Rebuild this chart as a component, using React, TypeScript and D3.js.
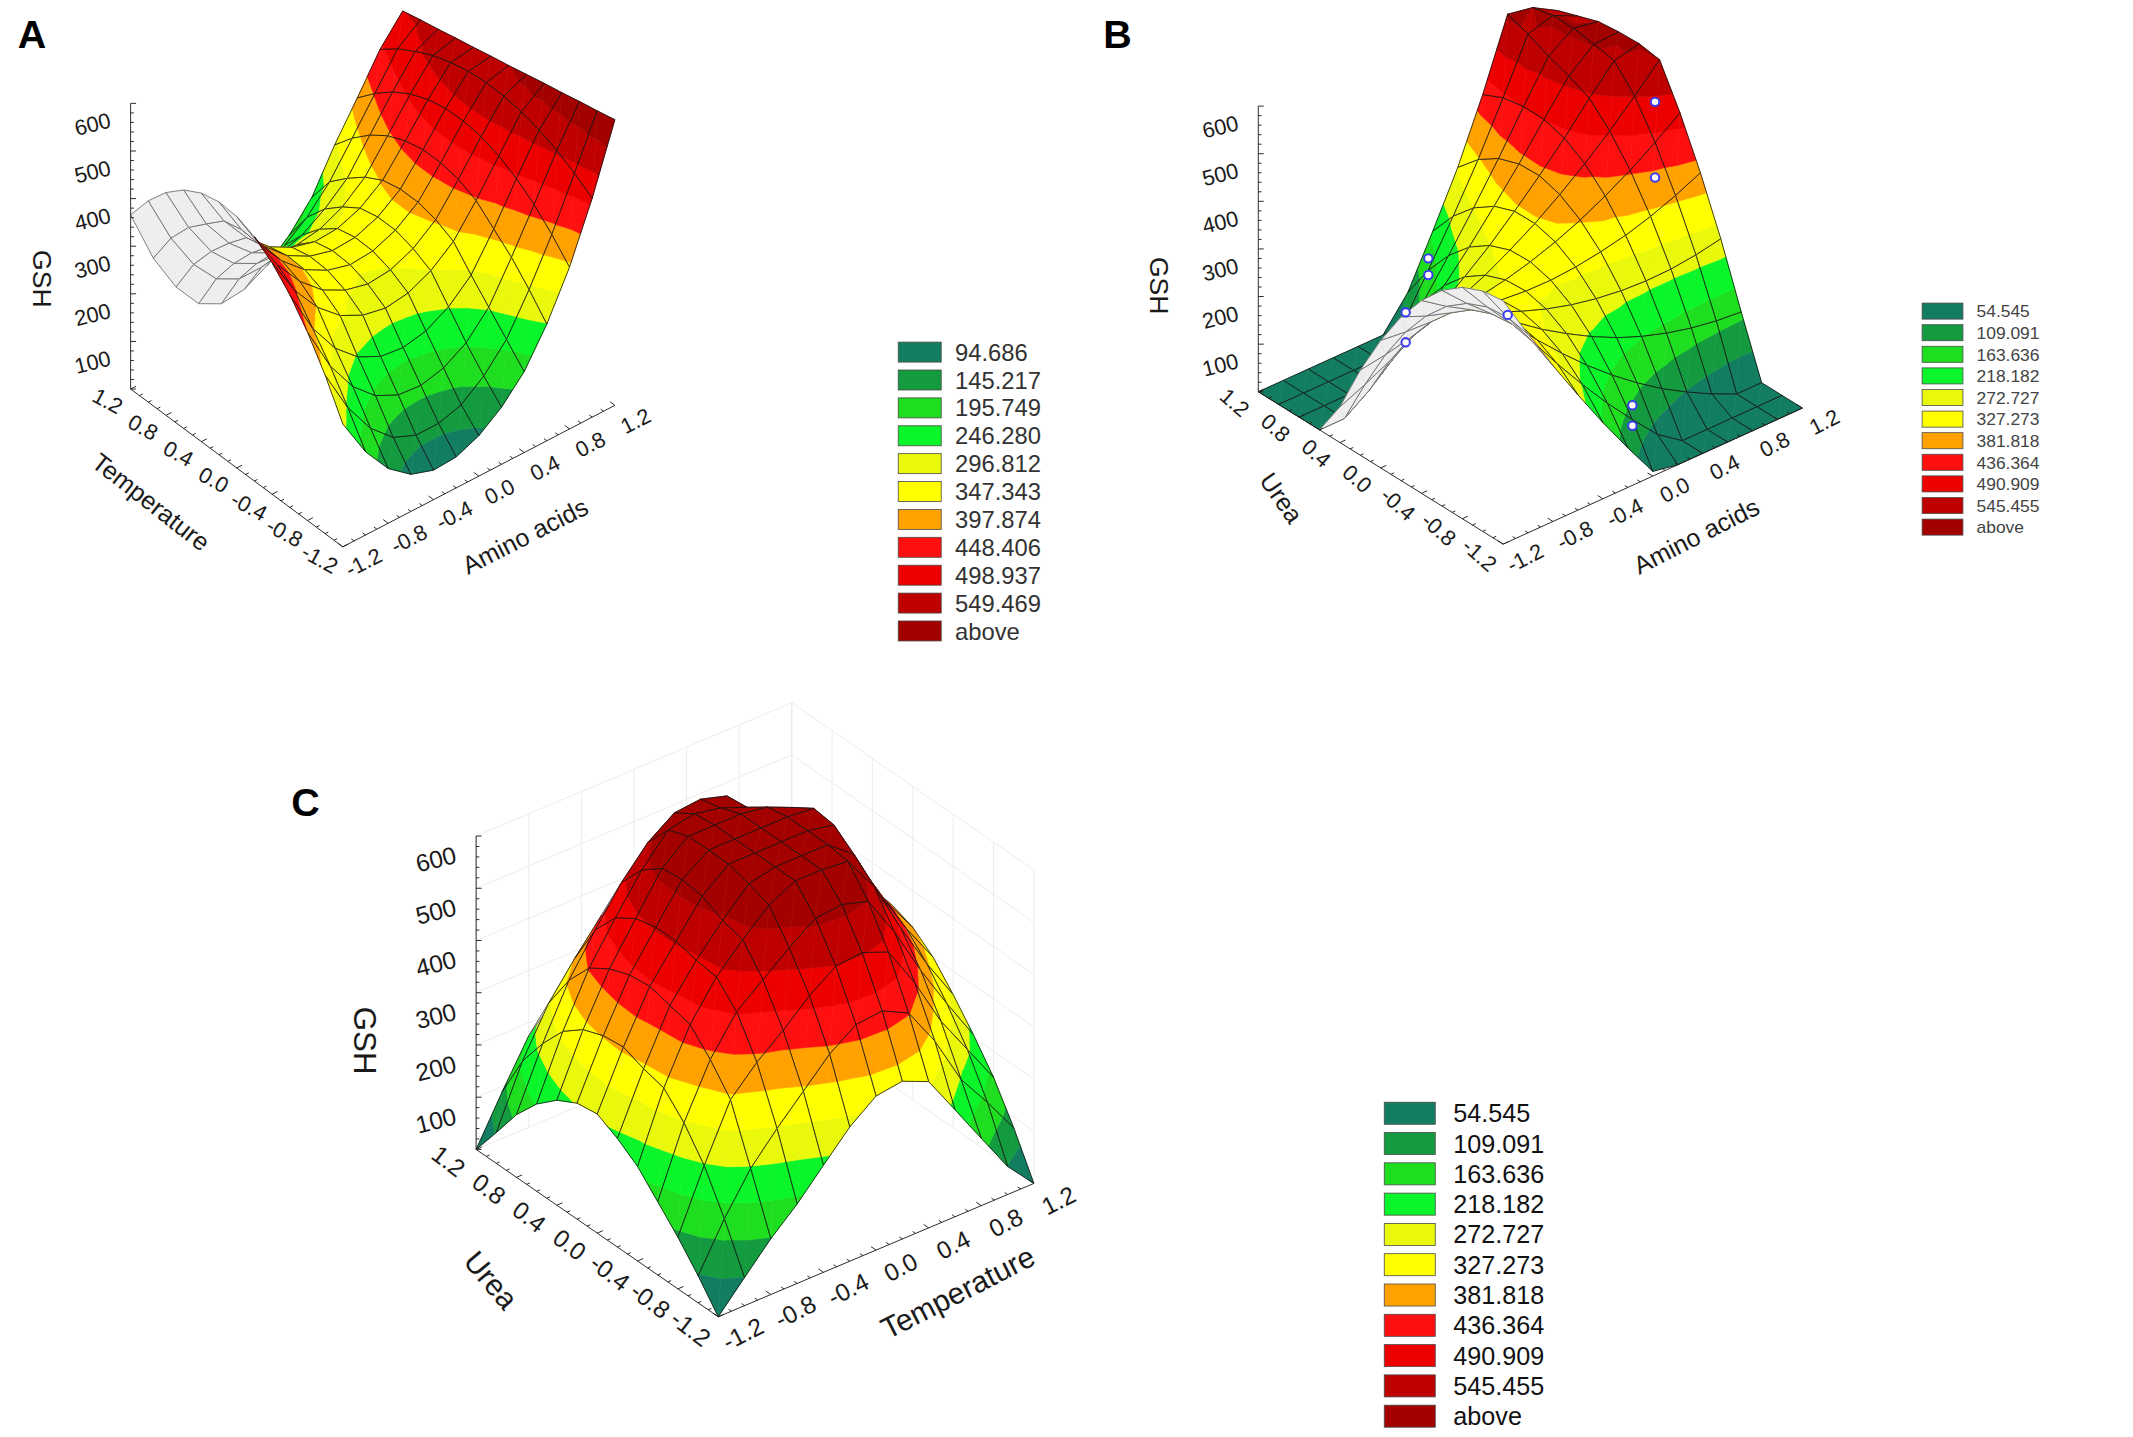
import * as d3 from "d3";
import React, { useEffect, useRef } from "react";

// Page is drawn in the coordinates of the figure as laid out (1568 wide), then scaled up.
const VIEW_W = 1568;
const VIEW_H = 1056.4;

// Grid nodes of the fitted surfaces (coded factor levels) and axis ticks
const gridSteps = [-1.2, -1.0, -0.8, -0.6, -0.4, -0.2, 0, 0.2, 0.4, 0.6, 0.8, 1.0, 1.2];
const axisTicks = [-1.2, -0.8, -0.4, 0, 0.4, 0.8, 1.2];
const zTicks = [100, 200, 300, 400, 500, 600];

// A: GSH, rows = Temperature (-1.2 .. 1.2), columns = Amino acids (-1.2 .. 1.2)
const gshTempAmino = [
  [258, 175, 115, 78, 62, 65, 85, 120, 170, 245, 340, 460, 600],
  [333, 240, 172, 128, 108, 108, 122, 158, 210, 290, 381, 485, 591],
  [396, 300, 232, 188, 165, 160, 172, 200, 250, 330, 416, 505, 583],
  [447, 352, 285, 242, 218, 212, 222, 248, 290, 362, 443, 520, 574],
  [486, 403, 343, 301, 277, 267, 274, 296, 333, 394, 463, 531, 566],
  [513, 430, 370, 327, 302, 290, 295, 315, 351, 411, 476, 536, 557],
  [528, 445, 385, 342, 316, 303, 307, 326, 360, 418, 481, 537, 548],
  [531, 448, 388, 344, 318, 305, 308, 326, 360, 418, 480, 533, 540],
  [522, 439, 379, 335, 309, 296, 299, 317, 351, 409, 471, 524, 531],
  [501, 405, 340, 295, 270, 262, 270, 292, 330, 392, 455, 511, 523],
  [468, 370, 295, 245, 220, 215, 230, 260, 300, 366, 432, 492, 514],
  [423, 320, 240, 185, 160, 160, 180, 215, 265, 332, 401, 470, 506],
  [366, 250, 165, 105, 80, 85, 110, 150, 205, 290, 364, 441, 497],
];

// B: GSH, rows = Urea (-1.2 .. 1.2), columns = Amino acids (-1.2 .. 1.2)
const gshUreaAmino = [
  [511, 417, 327, 242, 160, 83, 10, 0, 0, 0, 0, 0, 0],
  [505, 426, 351, 280, 213, 150, 92, 37, 0, 0, 0, 0, 0],
  [486, 421, 361, 304, 252, 203, 159, 119, 83, 52, 24, 0, 0],
  [453, 402, 356, 314, 276, 243, 213, 187, 166, 149, 136, 127, 122],
  [405, 369, 338, 310, 287, 268, 253, 242, 235, 232, 233, 239, 249],
  [344, 322, 305, 292, 284, 279, 278, 282, 290, 301, 317, 337, 361],
  [268, 262, 259, 261, 266, 276, 290, 308, 330, 357, 387, 422, 460],
  [179, 187, 199, 215, 235, 259, 288, 320, 357, 398, 443, 492, 545],
  [75, 98, 124, 155, 190, 229, 271, 319, 370, 425, 485, 540, 552],
  [0, 0, 36, 81, 130, 184, 241, 303, 368, 438, 505, 548, 550],
  [0, 0, 0, 0, 57, 125, 197, 273, 353, 438, 520, 555, 545],
  [0, 0, 0, 0, 0, 52, 139, 229, 324, 430, 540, 555, 530],
  [0, 0, 0, 0, 0, 0, 66, 171, 281, 410, 555, 545, 515],
];

// C: GSH, rows = Urea (-1.2 .. 1.2), columns = Temperature (-1.2 .. 1.2)
const gshUreaTemp = [
  [0, 54, 107, 152, 205, 257, 295, 302, 280, 205, 129, 54, 0],
  [52, 140, 215, 270, 320, 370, 405, 410, 385, 310, 215, 150, 80],
  [99, 215, 320, 370, 410, 455, 490, 495, 475, 395, 300, 225, 150],
  [140, 270, 370, 440, 480, 520, 555, 560, 545, 465, 370, 285, 205],
  [181, 310, 410, 480, 530, 575, 600, 600, 595, 525, 425, 335, 255],
  [208, 320, 420, 485, 540, 589, 600, 600, 600, 560, 460, 375, 300],
  [228, 335, 430, 495, 560, 600, 600, 600, 600, 590, 490, 400, 330],
  [222, 330, 425, 495, 565, 600, 600, 600, 600, 595, 500, 410, 345],
  [201, 315, 410, 485, 560, 600, 600, 600, 592, 570, 490, 400, 340],
  [167, 285, 385, 460, 530, 585, 595, 585, 565, 530, 460, 375, 315],
  [120, 235, 335, 410, 480, 535, 570, 575, 560, 505, 420, 330, 260],
  [59, 175, 265, 330, 390, 440, 470, 475, 460, 415, 345, 250, 160],
  [0, 90, 175, 225, 280, 330, 360, 365, 350, 305, 230, 130, 0],
];

// Observed runs shown on panel B
const obsUrea = [0, 0, 1, 1, 0, 0, -1, -1, -1];
const obsAmino = [1, 1, 0, 0, -1, -1, 0, 0, -1];
const obsGsh = [507, 348, 164, 129, 303, 240, 122, 79, 431];

// Contour levels (legend upper bounds) and their colours
const levelsA = [94.686, 145.217, 195.749, 246.28, 296.812, 347.343, 397.874, 448.406, 498.937, 549.469];
const levelsBC = [54.545, 109.091, 163.636, 218.182, 272.727, 327.273, 381.818, 436.364, 490.909, 545.455];
const bandColors = [
  "#137d61", "#149b40", "#1fde1f", "#0af52a", "#eaf80c", "#ffff00",
  "#ffa200", "#ff0f0f", "#ec0000", "#bf0000", "#a30000",
];

type Pt = [number, number];
type V = { x: number; y: number; v: number };

interface LegendSpec {
  x: number; y: number; w: number; h: number; step: number; tx: number; font: number; color: string;
}

interface PanelSpec {
  letter: string;
  letterAt: Pt;
  grid: number[][];
  levels: number[];
  F: Pt; L: Pt; R: Pt;
  zPx: number;
  leftTitle: string; rightTitle: string;
  leftTitleAt: Pt; rightTitleAt: Pt; gshAt: Pt;
  leftAngle: number; rightAngle: number;
  tickFont: number; titleFont: number; labelGap: number;
  walls: boolean;
  legend: LegendSpec;
  points?: { a: number[]; b: number[]; z: number[] };
}

const panels: PanelSpec[] = [
  {
    letter: "A", letterAt: [13, 35],
    grid: gshTempAmino, levels: levelsA,
    F: [252, 402], L: [96, 286], R: [452, 298], zPx: 0.35,
    leftTitle: "Temperature", rightTitle: "Amino acids",
    leftTitleAt: [111, 369], rightTitleAt: [386, 394], gshAt: [31, 205],
    leftAngle: 38, rightAngle: -27,
    tickFont: 16, titleFont: 18.5, labelGap: 19,
    walls: false,
    legend: { x: 660.3, y: 251.5, w: 31.6, h: 14.7, step: 20.5, tx: 702, font: 17.5, color: "#333" },
  },
  {
    letter: "B", letterAt: [811, 35],
    grid: gshUreaAmino, levels: levelsBC,
    F: [1105, 400], L: [925, 288], R: [1325, 300], zPx: 0.35,
    leftTitle: "Urea", rightTitle: "Amino acids",
    leftTitleAt: [942, 366], rightTitleAt: [1247, 394], gshAt: [852, 210],
    leftAngle: 55, rightAngle: -27,
    tickFont: 16, titleFont: 18.5, labelGap: 19,
    walls: false,
    legend: { x: 1413, y: 222.8, w: 30, h: 11.8, step: 15.88, tx: 1453, font: 12.8, color: "#444" },
    points: { a: obsUrea, b: obsAmino, z: obsGsh },
  },
  {
    letter: "C", letterAt: [214, 600],
    grid: gshUreaTemp, levels: levelsBC,
    F: [528, 968], L: [350, 845], R: [760, 870], zPx: 0.384,
    leftTitle: "Urea", rightTitle: "Temperature",
    leftTitleAt: [361, 941], rightTitleAt: [704, 950], gshAt: [268, 765],
    leftAngle: 50, rightAngle: -27,
    tickFont: 18, titleFont: 22, labelGap: 22,
    walls: true,
    legend: { x: 1017.6, y: 810.3, w: 37.5, h: 16.2, step: 22.27, tx: 1068.4, font: 18.5, color: "#111" },
  },
];

const FONT = "'Liberation Sans', Arial, Helvetica, sans-serif";

function triArea(t: V[]): number {
  return (t[1].x - t[0].x) * (t[2].y - t[0].y) - (t[2].x - t[0].x) * (t[1].y - t[0].y);
}

// keep the part of a polygon with v >= level (above) or v <= level (!above)
function clipPoly(poly: V[], level: number, above: boolean): V[] {
  if (!isFinite(level)) return poly;
  const inside = (p: V) => (above ? p.v >= level : p.v <= level);
  const out: V[] = [];
  for (let k = 0; k < poly.length; k++) {
    const a = poly[k];
    const b = poly[(k + 1) % poly.length];
    const ia = inside(a);
    const ib = inside(b);
    if (ia) out.push(a);
    if (ia !== ib) {
      const t = (level - a.v) / (b.v - a.v);
      out.push({ x: a.x + t * (b.x - a.x), y: a.y + t * (b.y - a.y), v: level });
    }
  }
  return out;
}

const polyPath = (pts: { x: number; y: number }[]) =>
  "M" + pts.map((p) => `${p.x.toFixed(2)},${p.y.toFixed(2)}`).join("L") + "Z";

function drawPanel(svg: d3.Selection<SVGSVGElement, unknown, null, undefined>, p: PanelSpec) {
  const g = svg.append("g");
  const frac = d3.scaleLinear().domain([-1.2, 1.2]).range([0, 1]);
  const zPix = d3.scaleLinear().domain([0, 600]).range([0, 600 * p.zPx]);
  const [fx, fy] = p.F;
  const lx = p.L[0] - fx;
  const ly = p.L[1] - fy;
  const rx = p.R[0] - fx;
  const ry = p.R[1] - fy;

  const proj = (a: number, b: number, z: number): Pt => [
    fx + frac(a) * lx + frac(b) * rx,
    fy + frac(a) * ly + frac(b) * ry - zPix(z),
  ];
  // orthographic view: sin^2 of the elevation follows from the floor edges
  const sin2 = Math.min(0.95, Math.max(0.05, (-ry / rx) * (ly / lx)));
  const depth = (a: number, b: number, z: number) =>
    (-frac(a) * ly - frac(b) * ry) * (1 - sin2) - zPix(z) * sin2;

  const toV = (a: number, b: number, z: number): V => {
    const [x, y] = proj(a, b, z);
    return { x, y, v: z };
  };
  const floorSign = Math.sign(triArea([toV(-1.2, -1.2, 0), toV(-1, -1.2, 0), toV(-1, -1, 0)]));

  // back walls with a faint grid (panel C)
  if (p.walls) {
    const wall = g.append("g").attr("stroke", "#e8e8e8").attr("stroke-width", 0.6).attr("fill", "none");
    const seg = (a: Pt, b: Pt) =>
      wall.append("line").attr("x1", a[0]).attr("y1", a[1]).attr("x2", b[0]).attr("y2", b[1]);
    [0, ...zTicks].forEach((z) => {
      seg(proj(1.2, -1.2, z), proj(1.2, 1.2, z));
      seg(proj(1.2, 1.2, z), proj(-1.2, 1.2, z));
    });
    axisTicks.forEach((v) => {
      seg(proj(1.2, v, 0), proj(1.2, v, 600));
      seg(proj(v, 1.2, 0), proj(v, 1.2, 600));
    });
  }

  // surface, painted from back to front
  const n = gridSteps.length;
  const quads: { i: number; j: number; d: number }[] = [];
  for (let i = 0; i < n - 1; i++) {
    for (let j = 0; j < n - 1; j++) {
      const cs = [[i, j], [i + 1, j], [i + 1, j + 1], [i, j + 1]];
      const d = d3.mean(cs, ([ii, jj]) => depth(gridSteps[ii], gridSteps[jj], p.grid[ii][jj])) as number;
      quads.push({ i, j, d });
    }
  }
  quads.sort((q1, q2) => q2.d - q1.d);

  const surf = g.append("g").attr("stroke-linejoin", "round");
  quads.forEach(({ i, j }) => {
    const P = [[i, j], [i + 1, j], [i + 1, j + 1], [i, j + 1]].map(([ii, jj]) =>
      toV(gridSteps[ii], gridSteps[jj], p.grid[ii][jj])
    );
    const tris = [[P[0], P[1], P[2]], [P[0], P[2], P[3]]];
    let front = false;
    tris.forEach((t) => {
      const s = Math.sign(triArea(t));
      if (s !== 0 && s !== floorSign) {
        surf.append("path").attr("d", polyPath(t)).attr("fill", "#eeeeee").attr("stroke", "#eeeeee").attr("stroke-width", 0.4);
        return;
      }
      front = true;
      const vmin = d3.min(t, (q) => q.v) as number;
      const vmax = d3.max(t, (q) => q.v) as number;
      for (let k = 0; k < bandColors.length; k++) {
        const lo = k === 0 ? -Infinity : p.levels[k - 1];
        const hi = k === p.levels.length ? Infinity : p.levels[k];
        if (vmax < lo || vmin > hi) continue;
        const piece = clipPoly(clipPoly(t, lo, true), hi, false);
        if (piece.length < 3) continue;
        surf.append("path").attr("d", polyPath(piece)).attr("fill", bandColors[k])
          .attr("stroke", bandColors[k]).attr("stroke-width", 0.45);
      }
    });
    surf.append("path").attr("d", polyPath(P)).attr("fill", "none")
      .attr("stroke", front ? "#141414" : "#4a4a4a").attr("stroke-width", front ? 0.6 : 0.5);
  });

  // observed runs
  if (p.points) {
    const pts = p.points;
    g.append("g").selectAll("circle").data(pts.z).join("circle")
      .attr("cx", (_d, k) => proj(pts.a[k], pts.b[k], pts.z[k])[0])
      .attr("cy", (_d, k) => proj(pts.a[k], pts.b[k], pts.z[k])[1])
      .attr("r", 3.1).attr("fill", "#fff").attr("stroke", "#3c3cf0").attr("stroke-width", 1.5);
  }

  // axes
  const ax = g.append("g").attr("stroke", "#222").attr("stroke-width", 0.7).attr("fill", "none");
  const line = (a: Pt, b: Pt) =>
    ax.append("line").attr("x1", a[0]).attr("y1", a[1]).attr("x2", b[0]).attr("y2", b[1]);
  const unit = (x: number, y: number): Pt => {
    const len = Math.hypot(x, y);
    return [x / len, y / len];
  };
  const uR = unit(rx, ry);
  const uL = unit(lx, ly);

  // vertical GSH axis at the left corner
  const zBase = proj(1.2, -1.2, 0);
  line(zBase, proj(1.2, -1.2, 600));
  zPix.ticks(30).forEach((z) => {
    const q = proj(1.2, -1.2, z);
    const len = z % 100 === 0 ? 4 : 2.4;
    line(q, [q[0] + len, q[1]]);
  });

  // floor axes
  line(proj(1.2, -1.2, 0), proj(-1.2, -1.2, 0));
  line(proj(-1.2, -1.2, 0), proj(-1.2, 1.2, 0));
  frac.ticks(24).forEach((v) => {
    const major = axisTicks.some((t) => Math.abs(t - v) < 1e-6);
    const len = major ? 4.5 : 2.6;
    const qa = proj(v, -1.2, 0);
    line(qa, [qa[0] + uR[0] * len, qa[1] + uR[1] * len]);
    const qb = proj(-1.2, v, 0);
    line(qb, [qb[0] + uL[0] * len, qb[1] + uL[1] * len]);
  });

  const txt = g.append("g").attr("font-family", FONT).attr("fill", "#1a1a1a");
  const label = (s: string, at: Pt, angle: number, size: number, anchor = "middle") =>
    txt.append("text")
      .attr("transform", `translate(${at[0].toFixed(2)},${at[1].toFixed(2)}) rotate(${angle})`)
      .attr("text-anchor", anchor).attr("dy", "0.35em").attr("font-size", size).text(s);

  axisTicks.forEach((v) => {
    const s = v.toFixed(1);
    const qa = proj(v, -1.2, 0);
    label(s, [qa[0] - uR[0] * p.labelGap, qa[1] - uR[1] * p.labelGap], p.leftAngle * 0.75, p.tickFont);
    const qb = proj(-1.2, v, 0);
    label(s, [qb[0] - uL[0] * p.labelGap, qb[1] - uL[1] * p.labelGap], p.rightAngle, p.tickFont);
  });
  zTicks.forEach((z) => {
    const q = proj(1.2, -1.2, z);
    label(String(z), [q[0] - 15, q[1] + p.tickFont * 0.75], -14, p.tickFont, "end");
  });

  label(p.leftTitle, p.leftTitleAt, p.leftAngle, p.titleFont);
  label(p.rightTitle, p.rightTitleAt, p.rightAngle, p.titleFont);
  label("GSH", p.gshAt, 90, p.titleFont + 1);

  svg.append("text").attr("x", p.letterAt[0]).attr("y", p.letterAt[1])
    .attr("font-family", FONT).attr("font-weight", "bold").attr("font-size", 29).text(p.letter);

  // legend
  const lg = svg.append("g").attr("font-family", FONT);
  const lgLabels = p.levels.map(d3.format(".3f")).concat(["above"]);
  lgLabels.forEach((s, k) => {
    const y = p.legend.y + k * p.legend.step;
    lg.append("rect").attr("x", p.legend.x).attr("y", y).attr("width", p.legend.w).attr("height", p.legend.h)
      .attr("fill", bandColors[k]).attr("stroke", "#4d4d4d").attr("stroke-width", 0.6);
    lg.append("text").attr("x", p.legend.tx).attr("y", y + p.legend.h / 2).attr("dy", "0.36em")
      .attr("font-size", p.legend.font).attr("fill", p.legend.color).text(s);
  });
}

const App: React.FC = () => {
  const svgRef = useRef<SVGSVGElement>(null);

  useEffect(() => {
    if (!svgRef.current) return;
    const svg = d3.select(svgRef.current);
    svg.selectAll("*").remove();
    svg.append("rect").attr("width", VIEW_W).attr("height", VIEW_H).attr("fill", "#ffffff");
    panels.forEach((p) => drawPanel(svg, p));
  }, []);

  return (
    <svg
      ref={svgRef}
      width={2133}
      height={1437}
      viewBox={`0 0 ${VIEW_W} ${VIEW_H}`}
      style={{ position: "absolute", left: 0, top: 0, display: "block" }}
    />
  );
};

export default App;
